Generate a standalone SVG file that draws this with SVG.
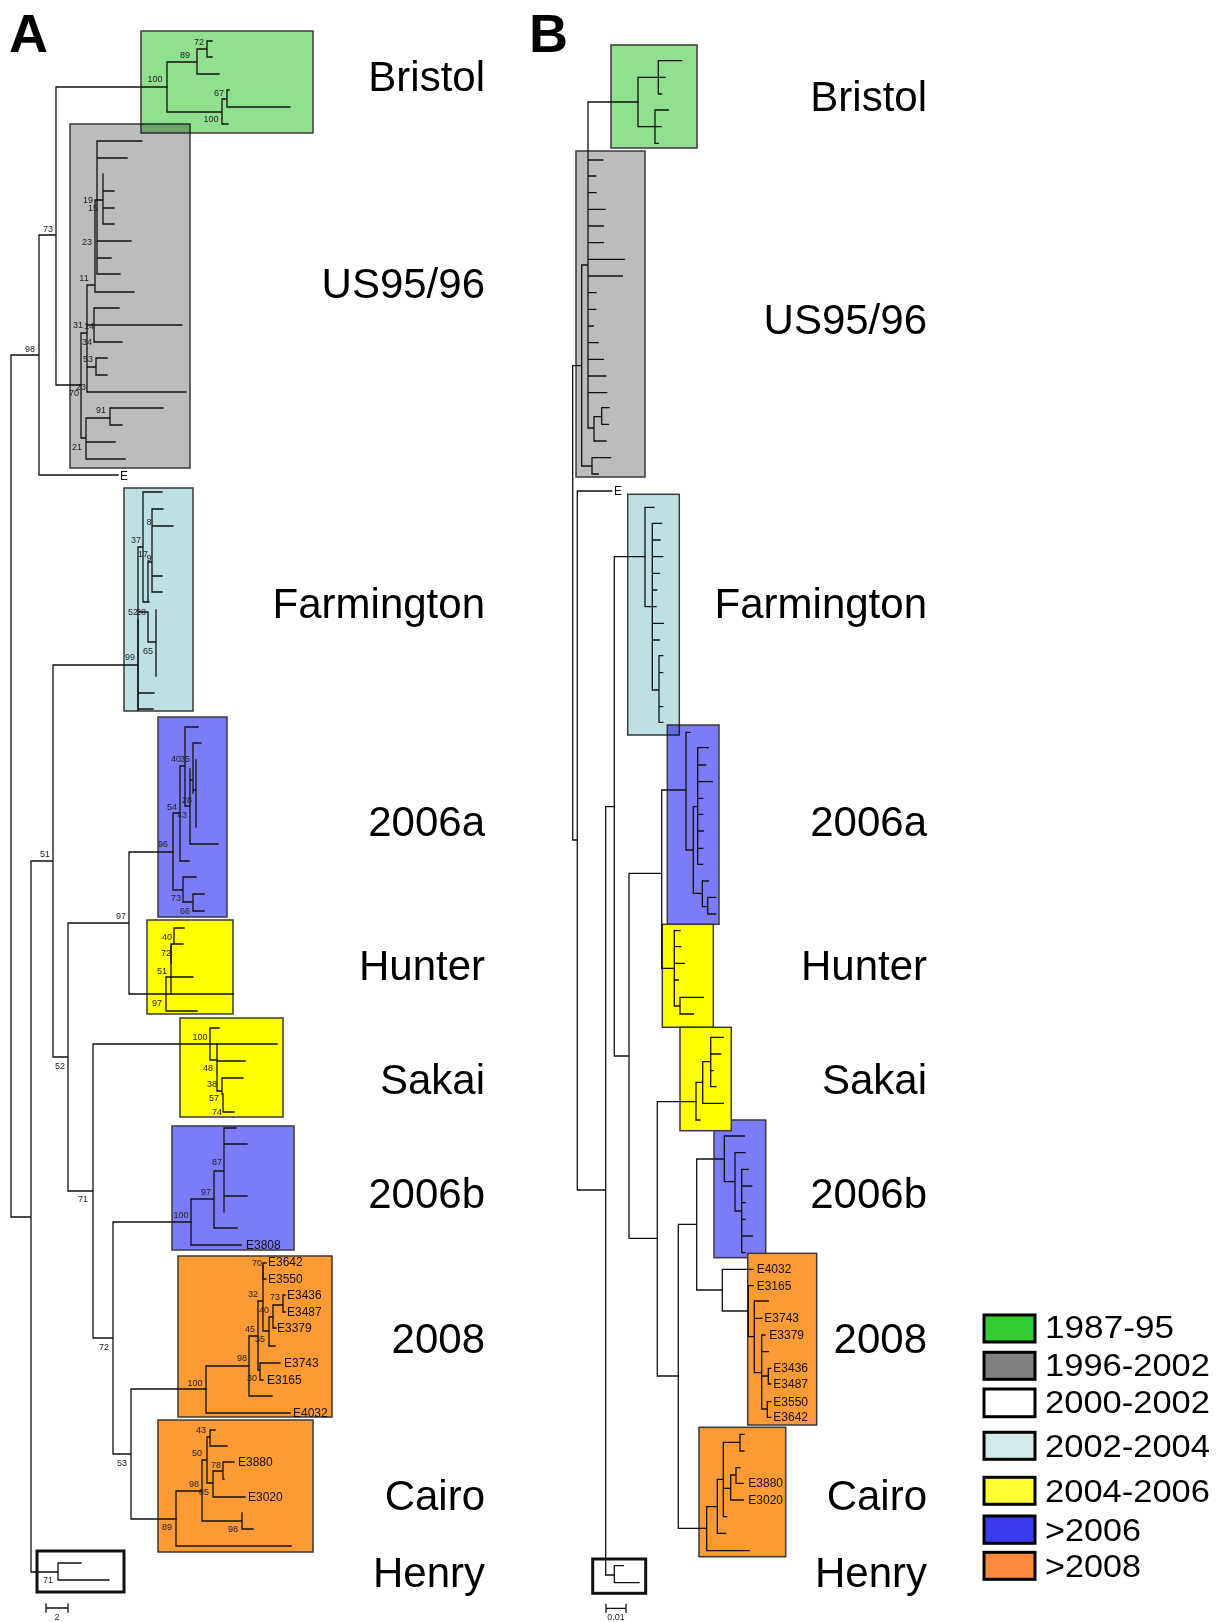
<svg xmlns="http://www.w3.org/2000/svg" width="1228" height="1622" viewBox="0 0 1228 1622">
<style>
.bx{stroke:#3a3a3a;stroke-width:1.5}
.g{fill:#90e090}.gr{fill:#bcbcbc}.c{fill:#bde1e3}.b{fill:#7c7cf8}.y{fill:#ffff00}.o{fill:#fc9a35}.w{fill:#fff;stroke:#111;stroke-width:3}
.mul{mix-blend-mode:multiply}
.t{fill:none;stroke:#111;stroke-width:1.3;stroke-linecap:square}
.big{font-family:"Liberation Sans",Arial,sans-serif;font-size:42px;fill:#000;text-anchor:end}
.pl{font-family:"Liberation Sans",Arial,sans-serif;font-size:54px;font-weight:bold;fill:#000}
.n{font-family:"Liberation Sans",Arial,sans-serif;font-size:9px;fill:#222;text-anchor:middle}
.e{font-family:"Liberation Sans",Arial,sans-serif;font-size:12px;fill:#111}
.lg{font-family:"Liberation Sans",Arial,sans-serif;font-size:31px;fill:#000}
.sw{stroke:#000;stroke-width:3}
</style>
<rect width="1228" height="1622" fill="#fff"/>
<text class="pl" x="9" y="52">A</text>
<text class="pl" x="529" y="52">B</text>

<!-- Panel A nodes -->
<g id="A-US95-96"><rect class="bx gr" x="70" y="124" width="120" height="344"/></g>
<g id="A-Bristol"><rect class="bx g mul" x="141" y="31" width="172" height="102"/></g>
<g id="A-Farmington"><rect class="bx c" x="124" y="488" width="69" height="223"/></g>
<g id="A-2006a"><rect class="bx b" x="158" y="717" width="69" height="200"/></g>
<g id="A-Hunter"><rect class="bx y" x="147" y="920" width="86" height="94"/></g>
<g id="A-Sakai"><rect class="bx y" x="180" y="1018" width="103" height="99"/></g>
<g id="A-2006b"><rect class="bx b" x="172" y="1126" width="122" height="124"/></g>
<g id="A-2008"><rect class="bx o" x="178" y="1256" width="154" height="161"/></g>
<g id="A-Cairo"><rect class="bx o" x="158" y="1420" width="155" height="132"/></g>
<g id="A-Henry"><rect class="w" x="37" y="1551" width="87" height="41"/></g>

<!-- Panel B nodes -->
<g id="B-US95-96"><rect class="bx gr" x="576" y="151" width="69" height="326"/></g>
<g id="B-Bristol"><rect class="bx g" x="611" y="45" width="86" height="103"/></g>
<g id="B-Farmington"><rect class="bx c" x="627.7" y="494.3" width="51.6" height="240.7"/></g>
<g id="B-2006a"><rect class="bx b mul" x="667.3" y="725" width="51.7" height="199.3"/></g>
<g id="B-2006b"><rect class="bx b" x="714" y="1120" width="51.7" height="137.7"/></g>
<g id="B-Hunter"><rect class="bx y" x="662.3" y="924.3" width="51" height="103"/></g>
<g id="B-Sakai"><rect class="bx y" x="680" y="1027.3" width="51.3" height="103.4"/></g>
<g id="B-2008"><rect class="bx o" x="747.7" y="1253.3" width="69" height="171.7"/></g>
<g id="B-Cairo"><rect class="bx o" x="699" y="1427.3" width="86.7" height="129.4"/></g>
<g id="B-Henry"><rect class="w" x="592.7" y="1559" width="53" height="34.3"/></g>

<g id="connectors">
<path class="t" d="M11 355V1217M11 355H39M11 1217H31M39 235V475M39 235H56M39 475H118M56 87V385M56 87H167M56 385H81M31 861V1572M31 861H53M31 1572H58M53 665V1057M53 665H138M53 1057H68M68 923V1191M68 923H129M68 1191H93M129 852V994M129 852H173M129 994H233M93 1044V1338M93 1044H277M93 1338H113M113 1222V1454M113 1222H191M113 1454H131M131 1389V1519M131 1389H206M131 1519H176"/>
<path class="t" d="M167 62V112M167 62H197M197 49V74M197 49H207M207 41V57M207 41H212M207 57H212M197 74H219M167 112H222M222 99V124M222 99H227M227 90V107M227 90H229M227 107H290M222 124H228"/>
<path class="t" d="M81 333V438M81 333H87M87 285V392M87 285H95M95 200V292M97 141V274M95 200H103M97 141H142M97 158H127M103 174V224M103 191H114M103 208H114M103 224H114M97 241H131M97 258H111M97 274H120M95 292H134M87 325H94M94 308V342M94 308H119M94 325H182M94 342H122M87 367H96M96 358V375M96 358H107M96 375H107M87 392H186M81 438H86M86 418V459M86 418H110M110 408V425M110 408H163M110 425H122M86 442H115M86 459H125"/>
<path class="t" d="M138 547V710M138 693H154M138 709H153M138 547H143M143 492V602M143 492H162M143 602H149M148 562V602M148 562H152M152 509V592M152 509H163M152 526H173M152 576H162M152 592H162M138 612H148M148 612V642M148 642H156M156 610V676"/>
<path class="t" stroke-width="2.6" d="M138 620V710"/>
<path class="t" d="M173 813V890M173 813H180M180 766V861M180 861H189M180 766H185M185 727V806M185 727H198M190 769V844M190 844H218M185 806H190M193 743V793M193 743H201M190 780H193M196 760V827M193 790H196M173 890H183M183 877V902M183 877H196M183 902H193M193 894V911M193 894H204M193 911H204"/>
<path class="t" d="M166 977V1011M166 977H193M166 1011H197M171 944V994M174 928V944M174 928H184M171 944H183"/>
<path class="t" stroke-width="2.4" d="M171 946V963"/>
<path class="t" d="M210 1028V1060M210 1028H219M210 1060H217M217 1044V1091M217 1061H245M217 1091H222M222 1078V1094M222 1078H243M222 1094H223M223 1094V1112M223 1112H234"/>
<path class="t" d="M191 1199V1245M191 1245H241M191 1199H214M214 1171V1228M214 1228H237M214 1171H224M224 1128V1212M224 1128H236M224 1144H247M224 1196H247"/>
<path class="t" d="M206 1366V1413M206 1413H290M206 1366H249M249 1336V1396M249 1396H272M249 1336H258M258 1301V1370M258 1370H260M260 1363V1380M260 1363H280M260 1380H263M258 1301H263M263 1263V1331M263 1263H266M263 1279H266M263 1331H269M269 1317V1346M269 1346H275M269 1317H273M273 1305V1328M273 1328H276M273 1305H283M283 1295V1312M283 1295H285M283 1312H285"/>
<path class="t" stroke="#555" stroke-width="2.6" d="M263 1266V1279"/>
<path class="t" d="M176 1491V1546M176 1546H291M176 1491H202M202 1460V1521M202 1521H242M242 1513V1529M242 1529H253M202 1460H207M207 1437V1483M207 1437H210M210 1430V1446M210 1430H215M210 1446H227M207 1483H213M213 1471V1497M213 1497H245M213 1471H223M223 1462V1479M223 1462H234M223 1479H224"/>
<path class="t" d="M58 1563V1580M58 1563H81M58 1580H109"/>
<path class="t" d="M46 1608H68M46 1604V1612M68 1604V1612"/>

<!-- Panel B lines -->
<path class="t" stroke-width="1.2" d="M572.7 365.7V840M572.7 365.7H581.7M572.7 840H577.3M581.7 265V466M581.7 265H588M581.7 466H592M588 102V428M588 102H638M588 160H602.7M588 176H595.7M588 192.7H596M588 209.3H605M588 226H603.3M588 242.7H603.3M588 259.3H624.3M588 276H622.3M588 292.7H596M588 309.3H595.7M588 326H593.3M588 342.7H598.3M588 359.3H603.3M588 376H605.7M588 392.7H606.7M588 428H594M594 416.7V441M594 416.7H601.7M601.7 407.7V424.3M601.7 407.7H609M601.7 424.3H608.3M594 441H606M592 457.7V474M592 457.7H610.7M592 474H598.3"/>
<path class="t" stroke-width="1.2" d="M638 77.3V126.7M638 77.3H665M658.3 60.7V94M658.3 60.7H681.7M658.3 94H661.7M638 126.7H661M655 110V143.3M655 110H668.3M655 143.3H658.3"/>
<path class="t" stroke-width="1.2" d="M577.3 491V1190M577.3 491H611.7M577.3 1190H605.7M605.7 806.7V1575M605.7 806.7H614.3M605.7 1575H614.3M614.3 556.7V1056M614.3 556.7H645M614.3 1056H629M629 873.3V1238.3M629 873.3H661.7M629 1238.3H657.3M661.7 790V968.3M661.7 790H686M661.7 968.3H674.3M657.3 1101.7V1376M657.3 1101.7H696M657.3 1376H678.3M678.3 1224.3V1528.3M678.3 1224.3H696.7M678.3 1528.3H706.7M696.7 1159V1290M696.7 1159H724.3M696.7 1290H722.3"/>
<path class="t" stroke-width="1.2" d="M645 507.3V606.7M645 507.3H654M645 606.7H656M652.3 523.3V690M652.3 523.3H661.7M652.3 540H660M652.3 556.7H662.7M652.3 573.3H659.3M652.3 590H656.7M652.3 623.3H663.3M652.3 640H659.3M652.3 690H659M659 655.7V722.3M659 655.7H662.7M659 672.7H662.7M659 706.7H662.7M659 722.3H662.7"/>
<path class="t" stroke-width="1.2" d="M686 732.3V850M686 732.3H690M686 850H693.3M693.3 806.7V893.3M693.3 806.7H697.7M697.7 747.7V864.3M697.7 747.7H708.3M697.7 765H705.7M697.7 781.7H712.3M697.7 798.3H702.7M697.7 814.3H702.7M697.7 831H703.3M697.7 848.3H702.7M697.7 864.3H702.7M693.3 893.3H702.3M702.3 881V906.7M702.3 881H708.3M702.3 906.7H707.7M707.7 897.3V914M707.7 897.3H715.7M707.7 914H715.7"/>
<path class="t" stroke-width="1.2" d="M674.3 930.7V1006M674.3 930.7H680M674.3 946.7H680.7M674.3 963.3H684.3M674.3 980H678.3M674.3 1006H680M680 997.3V1014M680 997.3H703.3M680 1014H693.3"/>
<path class="t" stroke-width="1.2" d="M696 1082.3V1120M696 1120H700M696 1082.3H702.7M702.7 1061.7V1103.3M702.7 1103.3H723.3M702.7 1061.7H710.7M710.7 1037.3V1086.7M710.7 1037.3H723.3M710.7 1054H720.7M710.7 1070.7H713.3M710.7 1086.7H716"/>
<path class="t" stroke-width="1.2" d="M724.3 1136V1181.7M724.3 1136H744.3M724.3 1181.7H735M735 1152.7V1211M735 1152.7H745M735 1211H741.7M741.7 1169.3V1252.7M741.7 1169.3H748.3M741.7 1186H751.7M741.7 1202.7H745M741.7 1219.3H745M741.7 1236H752.3M741.7 1252.7H745"/>
<path class="t" stroke-width="1.2" d="M722.3 1269.3V1311M722.3 1269.3H753.3M722.3 1311H748.3M748.3 1285.7V1336.7M748.3 1285.7H753.3M748.3 1336.7H754.3M754.3 1301V1372.7M754.3 1301H768.3M754.3 1318.3H762M754.3 1372.7H761.7M761.7 1335V1409M761.7 1335H765M761.7 1351.7H768.3M761.7 1376H768.3M768.3 1368.3V1384M768.3 1368.3H770.7M768.3 1384H770.7M761.7 1409H767.3M767.3 1401.7V1417.3M767.3 1401.7H770.7M767.3 1417.3H770.7"/>
<path class="t" stroke-width="1.2" d="M706.7 1506.7V1550.7M706.7 1550.7H749M706.7 1506.7H717.3M717.3 1479.3V1533.3M717.3 1533.3H725.7M717.3 1479.3H723.3M723.3 1442.3V1516.7M723.3 1516.7H726.7M723.3 1442.3H740M740 1434.3V1451M740 1434.3H744M740 1451H744M723.3 1488.3H730.7M730.7 1475V1500M730.7 1500H743.3M730.7 1475H736M736 1467.7V1483.3M736 1467.7H740M736 1483.3H743.3"/>
<path class="t" stroke-width="1.2" d="M614.3 1565.7V1582.7M614.3 1565.7H623.3M614.3 1582.7H639"/>
<path class="t" stroke-width="1.2" d="M606 1608.3H626M606 1604.3V1612.3M626 1604.3V1612.3"/>
</g>

<g id="support-values">
<text class="n" x="199" y="45">72</text><text class="n" x="185" y="58">89</text><text class="n" x="155" y="82">100</text><text class="n" x="219" y="96">67</text><text class="n" x="211" y="122">100</text>
<text class="n" x="88" y="203">19</text><text class="n" x="93" y="211">15</text><text class="n" x="87" y="245">23</text><text class="n" x="84" y="281">11</text><text class="n" x="78" y="328">31</text><text class="n" x="89" y="329">14</text><text class="n" x="87" y="345">34</text><text class="n" x="88" y="362">53</text><text class="n" x="81" y="390">23</text><text class="n" x="74" y="396">70</text><text class="n" x="101" y="413">91</text><text class="n" x="77" y="450">21</text><text class="n" x="48" y="232">73</text><text class="n" x="30" y="352">98</text>
<text class="n" x="136" y="543">37</text><text class="n" x="149" y="525">8</text><text class="n" x="143" y="557">17</text><text class="n" x="149" y="561">9</text><text class="n" x="133" y="615">52</text><text class="n" x="141" y="615">28</text><text class="n" x="148" y="654">65</text><text class="n" x="130" y="660">99</text>
<text class="n" x="176" y="762">40</text><text class="n" x="185" y="762">35</text><text class="n" x="187" y="803">28</text><text class="n" x="172" y="810">54</text><text class="n" x="182" y="818">43</text><text class="n" x="163" y="847">96</text><text class="n" x="176" y="901">73</text><text class="n" x="185" y="914">66</text>
<text class="n" x="45" y="857">51</text><text class="n" x="121" y="919">97</text>
<text class="n" x="167" y="940">40</text><text class="n" x="166" y="956">72</text><text class="n" x="162" y="974">51</text><text class="n" x="157" y="1006">97</text>
<text class="n" x="200" y="1040">100</text><text class="n" x="208" y="1071">48</text><text class="n" x="212" y="1087">38</text><text class="n" x="214" y="1101">57</text><text class="n" x="217" y="1115">74</text>
<text class="n" x="60" y="1069">52</text>
<text class="n" x="217" y="1165">87</text><text class="n" x="206" y="1195">97</text><text class="n" x="181" y="1218">100</text>
<text class="n" x="83" y="1202">71</text>
<text class="n" x="257" y="1266">70</text><text class="n" x="253" y="1297">32</text><text class="n" x="275" y="1300">73</text><text class="n" x="264" y="1313">40</text><text class="n" x="250" y="1332">45</text><text class="n" x="260" y="1342">35</text><text class="n" x="242" y="1361">98</text><text class="n" x="252" y="1381">30</text><text class="n" x="195" y="1386">100</text>
<text class="n" x="104" y="1350">72</text><text class="n" x="122" y="1466">53</text>
<text class="n" x="201" y="1433">43</text><text class="n" x="197" y="1456">50</text><text class="n" x="216" y="1468">78</text><text class="n" x="194" y="1487">98</text><text class="n" x="204" y="1495">85</text><text class="n" x="167" y="1530">89</text><text class="n" x="233" y="1532">98</text>
<text class="n" x="48" y="1583">71</text>
<text class="n" x="57" y="1620">2</text>
<text class="n" x="616" y="1620">0.01</text>
</g>

<g id="tip-labels">
<text class="e" x="120" y="480" font-size="11">E</text>
<text class="e" x="614" y="495" font-size="10">E</text>
<text class="e" x="246" y="1249">E3808</text>
<text class="e" x="268" y="1266">E3642</text><text class="e" x="268" y="1283">E3550</text><text class="e" x="287" y="1299">E3436</text><text class="e" x="287" y="1316">E3487</text><text class="e" x="277" y="1332">E3379</text><text class="e" x="284" y="1367">E3743</text><text class="e" x="267" y="1384">E3165</text><text class="e" x="293" y="1417">E4032</text>
<text class="e" x="238" y="1466">E3880</text><text class="e" x="248" y="1501">E3020</text>
<text class="e" x="756.7" y="1273.3">E4032</text><text class="e" x="756.7" y="1289.7">E3165</text><text class="e" x="764.3" y="1322.3">E3743</text><text class="e" x="769.3" y="1339">E3379</text><text class="e" x="773.3" y="1372.3">E3436</text><text class="e" x="773.3" y="1388">E3487</text><text class="e" x="773.3" y="1405.7">E3550</text><text class="e" x="773.3" y="1421.3">E3642</text>
<text class="e" x="748.3" y="1487.3">E3880</text><text class="e" x="748.3" y="1504">E3020</text>
</g>

<g id="clade-labels">
<text class="big" x="485" y="91">Bristol</text>
<text class="big" x="485" y="298">US95/96</text>
<text class="big" x="485" y="618">Farmington</text>
<text class="big" x="485" y="836">2006a</text>
<text class="big" x="485" y="980">Hunter</text>
<text class="big" x="485" y="1094">Sakai</text>
<text class="big" x="485" y="1208">2006b</text>
<text class="big" x="485" y="1353">2008</text>
<text class="big" x="485" y="1510">Cairo</text>
<text class="big" x="485" y="1587">Henry</text>
<text class="big" x="927" y="111">Bristol</text>
<text class="big" x="927" y="334">US95/96</text>
<text class="big" x="927" y="618">Farmington</text>
<text class="big" x="927" y="836">2006a</text>
<text class="big" x="927" y="980">Hunter</text>
<text class="big" x="927" y="1094">Sakai</text>
<text class="big" x="927" y="1208">2006b</text>
<text class="big" x="927" y="1353">2008</text>
<text class="big" x="927" y="1510">Cairo</text>
<text class="big" x="927" y="1587">Henry</text>
</g>

<g id="legend">
<rect class="sw" x="984" y="1315" width="51" height="27" fill="#33cc33"/>
<rect class="sw" x="984" y="1352.3" width="51" height="27" fill="#808080"/>
<rect class="sw" x="984" y="1389" width="51" height="27.7" fill="#ffffff"/>
<rect class="sw" x="984" y="1432.3" width="51" height="27" fill="#d3eaea"/>
<rect class="sw" x="984" y="1477.3" width="51" height="27" fill="#ffff33"/>
<rect class="sw" x="984" y="1516" width="51" height="27.3" fill="#3a3aee"/>
<rect class="sw" x="984" y="1552.3" width="51" height="27" fill="#fb8a3c"/>
<text class="lg" x="1045" y="1338.3" textLength="129" lengthAdjust="spacingAndGlyphs">1987-95</text>
<text class="lg" x="1045" y="1376" textLength="165" lengthAdjust="spacingAndGlyphs">1996-2002</text>
<text class="lg" x="1045" y="1413.3" textLength="165" lengthAdjust="spacingAndGlyphs">2000-2002</text>
<text class="lg" x="1045" y="1457.3" textLength="165" lengthAdjust="spacingAndGlyphs">2002-2004</text>
<text class="lg" x="1045" y="1501.7" textLength="165" lengthAdjust="spacingAndGlyphs">2004-2006</text>
<text class="lg" x="1045" y="1540.7" textLength="96" lengthAdjust="spacingAndGlyphs">&gt;2006</text>
<text class="lg" x="1045" y="1576.7" textLength="96" lengthAdjust="spacingAndGlyphs">&gt;2008</text>
</g>
</svg>
